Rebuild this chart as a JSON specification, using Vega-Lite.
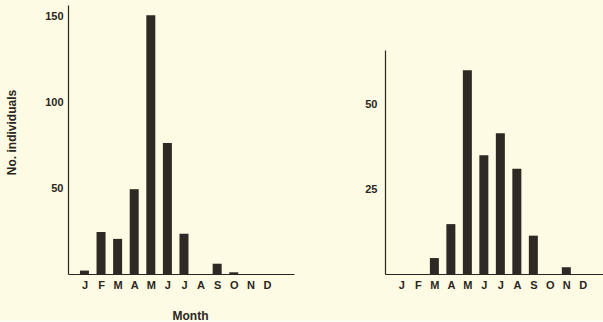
{
  "$schema": "https://vega.github.io/schema/vega-lite/v6.json",
  "background": "#fdfbe3",
  "padding": {"left": 5, "top": 5, "right": 0, "bottom": 0},
  "config": {
    "view": {"stroke": null},
    "axis": {
      "labelFont": "Liberation Sans",
      "titleFont": "Liberation Sans",
      "labelColor": "#2b2622",
      "titleColor": "#2b2622",
      "domainColor": "#2b2622",
      "domainWidth": 1.2,
      "ticks": false,
      "grid": false,
      "labelOverlap": false,
      "labelFontWeight": "bold",
      "titleFontWeight": "bold"
    }
  },
  "data": {
    "values": [
      {"panel": "A", "month": 1, "count": 2},
      {"panel": "A", "month": 2, "count": 24.5},
      {"panel": "A", "month": 3, "count": 20.5},
      {"panel": "A", "month": 4, "count": 49.5},
      {"panel": "A", "month": 5, "count": 151},
      {"panel": "A", "month": 6, "count": 76.5},
      {"panel": "A", "month": 7, "count": 23.5},
      {"panel": "A", "month": 8, "count": 0},
      {"panel": "A", "month": 9, "count": 6},
      {"panel": "A", "month": 10, "count": 1},
      {"panel": "A", "month": 11, "count": 0},
      {"panel": "A", "month": 12, "count": 0},
      {"panel": "B", "month": 1, "count": 0},
      {"panel": "B", "month": 2, "count": 0},
      {"panel": "B", "month": 3, "count": 4.7},
      {"panel": "B", "month": 4, "count": 14.7},
      {"panel": "B", "month": 5, "count": 60},
      {"panel": "B", "month": 6, "count": 35},
      {"panel": "B", "month": 7, "count": 41.5},
      {"panel": "B", "month": 8, "count": 31},
      {"panel": "B", "month": 9, "count": 11.3},
      {"panel": "B", "month": 10, "count": 0},
      {"panel": "B", "month": 11, "count": 2},
      {"panel": "B", "month": 12, "count": 0}
    ]
  },
  "spacing": 70,
  "hconcat": [
    {
      "transform": [{"filter": "datum.panel == 'A'"}],
      "width": 226,
      "height": 269,
      "mark": {"type": "bar", "width": 9, "color": "#2e2925"},
      "encoding": {
        "x": {
          "field": "month",
          "type": "quantitative",
          "scale": {"domain": [0.31, 13.33], "nice": false, "zero": false},
          "axis": {
            "values": [1,2,3,4,5,6,7,8,9,10,11,12],
            "labelExpr": "['J','F','M','A','M','J','J','A','S','O','N','D'][datum.value-1]",
            "labelFontSize": 11,
            "labelPadding": 5,
            "title": "Month",
            "titleFontSize": 12,
            "titlePadding": 20,
            "titleX": 122
          }
        },
        "y": {
          "field": "count",
          "type": "quantitative",
          "scale": {"domain": [0, 157], "nice": false},
          "axis": {
            "values": [50, 100, 150],
            "labelFontSize": 11,
            "labelPadding": 5,
            "title": "No. individuals",
            "titleFontSize": 12,
            "titlePadding": 26,
            "titleY": 127
          }
        }
      }
    },
    {
      "transform": [{"filter": "datum.panel == 'B'"}],
      "width": 218,
      "height": 269,
      "mark": {"type": "bar", "width": 9, "color": "#2e2925"},
      "encoding": {
        "x": {
          "field": "month",
          "type": "quantitative",
          "scale": {"domain": [0.31, 12.92], "nice": false, "zero": false},
          "axis": {
            "values": [1,2,3,4,5,6,7,8,9,10,11,12],
            "labelExpr": "['J','F','M','A','M','J','J','A','S','O','N','D'][datum.value-1]",
            "labelFontSize": 11,
            "labelPadding": 5,
            "title": null
          }
        },
        "y": {
          "field": "count",
          "type": "quantitative",
          "scale": {"domain": [0, 66], "nice": false, "range": [269, 45]},
          "axis": {
            "values": [25, 50],
            "labelFontSize": 11,
            "labelPadding": 8,
            "title": null
          }
        }
      }
    }
  ]
}
